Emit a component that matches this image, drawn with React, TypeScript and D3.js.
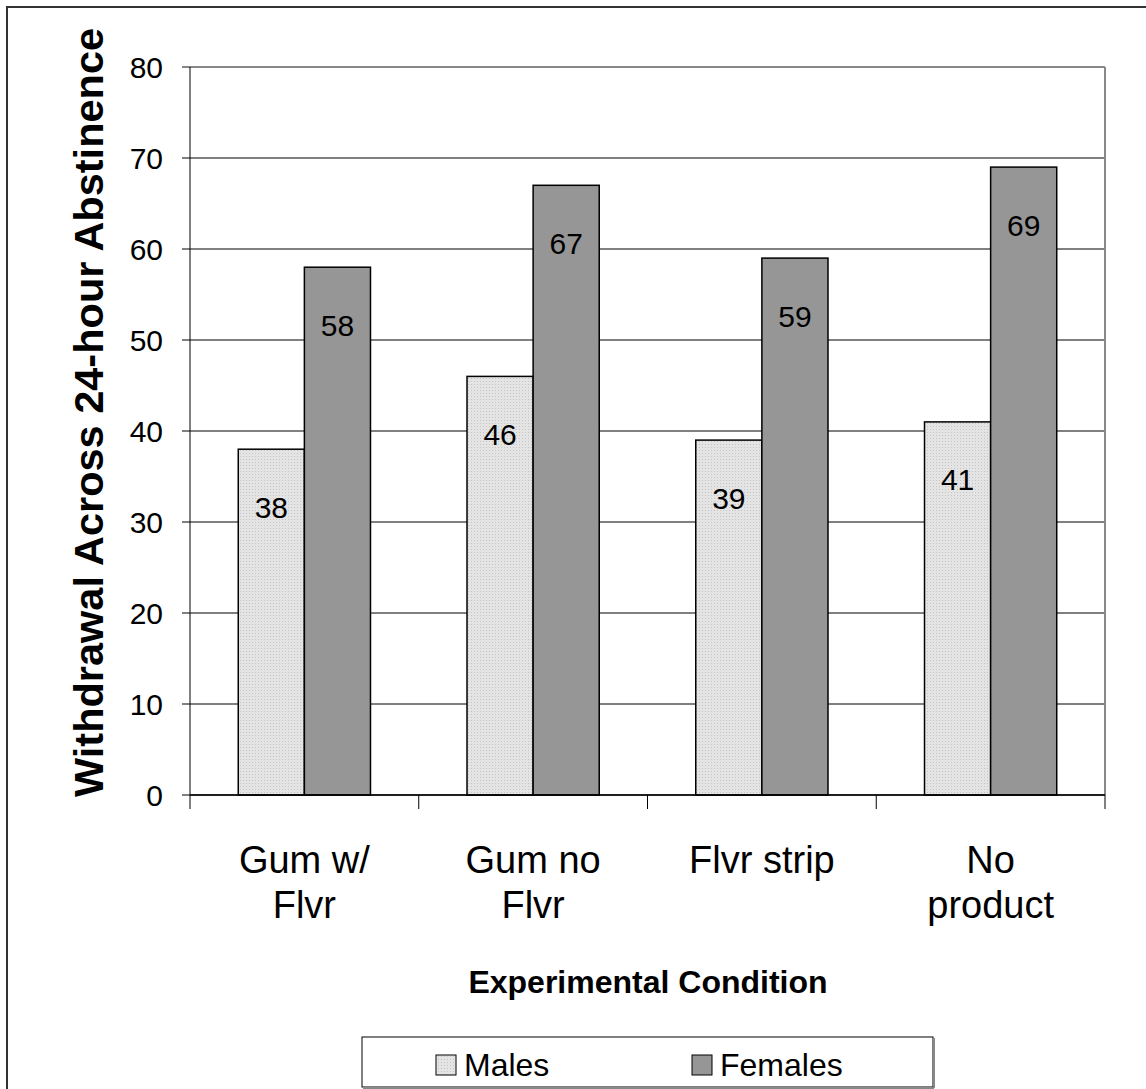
import React from "react";
import * as d3 from "d3";

const categories = [["Gum w/", "Flvr"], ["Gum no", "Flvr"], ["Flvr strip"], ["No", "product"]];
const seriesNames = ["Males", "Females"];
const males = [38, 46, 39, 41];
const females = [58, 67, 59, 69];
const yTicks = [0, 10, 20, 30, 40, 50, 60, 70, 80];

const W = 1146, H = 1089;
const left = 190, right = 1105, top = 67, bottom = 795;

export default function App() {
  const x = d3.scaleBand<number>().domain(d3.range(categories.length)).range([left, right]).paddingInner(0).paddingOuter(0);
  const inner = d3.scaleBand<number>().domain([0, 1]).range([0, x.bandwidth()]).paddingOuter(0.73).paddingInner(0);
  const y = d3.scaleLinear().domain([0, 80]).range([bottom, top]);
  const series = [males, females];
  const fills = ["url(#dots)", "#969696"];
  const font = "'Liberation Sans', Arial, sans-serif";
  return (
    <div style={{ position: "absolute", left: 0, top: 0 }}>
      <svg width={W} height={H} style={{ display: "block", fontFamily: font }}>
        <defs>
          <pattern id="dots" width="3" height="3" patternUnits="userSpaceOnUse">
            <rect width="3" height="3" fill="#e4e4e4" />
            <rect width="1" height="1" fill="#c4c4c4" />
          </pattern>
        </defs>
        <rect x={0} y={0} width={W} height={H} fill="#fff" />
        <rect x={7} y={7} width={W + 20} height={H + 20} fill="none" stroke="#333" strokeWidth={2} />
        {yTicks.map((t) => (
          <line key={"g" + t} x1={left - 8} x2={right} y1={y(t)} y2={y(t)}
            stroke={t === 80 ? "#888" : "#000"} strokeWidth={t === 80 ? 2 : 1} />
        ))}
        <line x1={right} x2={right} y1={top} y2={bottom} stroke="#888" strokeWidth={2} />
        {series.map((vals, si) =>
          vals.map((v, i) => (
            <rect key={si + "-" + i} x={(x(i) as number) + (inner(si) as number)} y={y(v)}
              width={inner.bandwidth()} height={bottom - y(v)} fill={fills[si]} stroke="#000" strokeWidth={1.5} />
          ))
        )}
        {series.map((vals, si) =>
          vals.map((v, i) => (
            <text key={"l" + si + "-" + i} x={(x(i) as number) + (inner(si) as number) + inner.bandwidth() / 2}
              y={y(v) + 58} textAnchor="middle" dominantBaseline="central" fontSize={30} fill="#000">{v}</text>
          ))
        )}
        <line x1={left} x2={left} y1={top} y2={bottom} stroke="#000" strokeWidth={1} />
        <line x1={left} x2={right} y1={bottom} y2={bottom} stroke="#000" strokeWidth={1.5} />
        {yTicks.map((t) => (
          <text key={"t" + t} x={163} y={y(t)} textAnchor="end" dominantBaseline="central" fontSize={30}>{t}</text>
        ))}
        {d3.range(categories.length + 1).map((i) => {
          const xx = i < categories.length ? (x(i) as number) : right;
          return <line key={"xt" + i} x1={xx} x2={xx} y1={bottom} y2={bottom + 14} stroke="#000" strokeWidth={1} />;
        })}
        {categories.map((lines, i) => (
          <text key={"c" + i} x={(x(i) as number) + x.bandwidth() / 2} y={860} textAnchor="middle" fontSize={38}>
            {lines.map((ln, k) => (
              <tspan key={k} x={(x(i) as number) + x.bandwidth() / 2} dy={k === 0 ? 0 : 45} dominantBaseline="central">{ln}</tspan>
            ))}
          </text>
        ))}
        <text x={648} y={982} textAnchor="middle" dominantBaseline="central" fontSize={32} fontWeight="bold">Experimental Condition</text>
        <text transform={`translate(88,797) rotate(-90)`} textAnchor="start" dominantBaseline="central" fontSize={41.5} fontWeight="bold">
          Withdrawal Across 24-hour Abstinence
        </text>
        <rect x={362} y={1037} width={571} height={50} fill="#fff" stroke="#000" strokeWidth={1} />
        <line x1={363} x2={934} y1={1088} y2={1088} stroke="#888" strokeWidth={2} />
        <line x1={934} x2={934} y1={1038} y2={1088} stroke="#888" strokeWidth={2} />
        {seriesNames.map((n, i) => {
          const sx = i === 0 ? 436 : 692;
          return (
            <g key={n}>
              <rect x={sx} y={1055} width={20} height={20} fill={fills[i]} stroke="#000" strokeWidth={1} />
              <text x={sx + 28} y={1065} dominantBaseline="central" fontSize={32}>{n}</text>
            </g>
          );
        })}
      </svg>
    </div>
  );
}
